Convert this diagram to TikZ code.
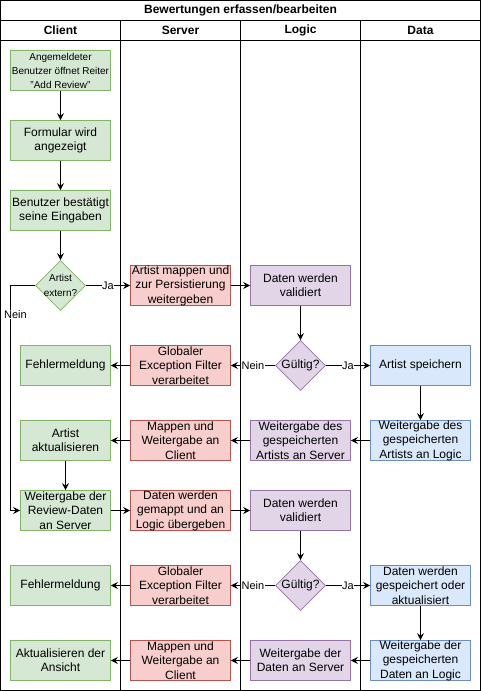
\documentclass[tikz,border=0pt]{standalone}
\usepackage{fontspec}
\setmainfont{Liberation Sans}
\usetikzlibrary{positioning, shapes.geometric, arrows.meta}
\definecolor{clientF}{HTML}{D5E8D4}
\definecolor{clientD}{HTML}{82B366}
\definecolor{serverF}{HTML}{F8CECC}
\definecolor{serverD}{HTML}{B85450}
\definecolor{logicF}{HTML}{E1D5E7}
\definecolor{logicD}{HTML}{9673A6}
\definecolor{dataF}{HTML}{DAE8FC}
\definecolor{dataD}{HTML}{6C8EBF}
\tikzset{
  card/.style    ={draw, line width=0.8pt, align=center, inner xsep=1pt,
                   inner ysep=0pt, minimum width=100pt, minimum height=40pt,
                   font=\fontsize{12}{14.4}\selectfont},
  Lclient/.style ={card, fill=clientF, draw=clientD},
  Lserver/.style ={card, fill=serverF, draw=serverD},
  Llogic/.style  ={card, fill=logicF, draw=logicD},
  Ldata/.style   ={card, fill=dataF, draw=dataD},
  Ldec/.style    ={diamond, aspect=1, minimum width=50pt, minimum height=50pt,
                   inner sep=0pt, line width=0.8pt},
  lane/.style    ={line width=0.8pt},
  head/.style    ={font=\bfseries\fontsize{12}{14}\selectfont},
  flow/.style    ={-{Stealth[length=7pt, width=7pt, inset=2.5pt]},
                   line width=0.8pt},
  lab/.style     ={fill=white, inner sep=0.5pt,
                   font=\fontsize{11}{12}\selectfont},
}
\begin{document}
\begin{tikzpicture}[x=1pt, y=-1pt]
\useasboundingbox (-0.5,-0.5) rectangle (480.5,690.5);

% swimlanes
\draw[lane] (0,0) rectangle (480,690);
\draw[lane] (0,20) -- (480,20);
\draw[lane] (0,40) -- (480,40);
\foreach \xl in {120, 240, 360}
  \draw[lane] (\xl,20) -- (\xl,690);
\node[head] (title) at (240,10) {Bewertungen erfassen/bearbeiten};
\foreach \lanename/\xc in {Client/60, Server/180, Logic/300, Data/420}
  \node[head] (H\lanename) at (\xc,30) {\lanename};

% Client
\node[Lclient, font=\fontsize{10}{14}\selectfont] (CStart) at (60,70)
  {Angemeldeter\\Benutzer öffnet Reiter\\"Add Review"};
\node[Lclient] (CForm) at (60,140) {Formular wird\\angezeigt};
\node[Lclient] (CConfirm) at (60,210) {Benutzer bestätigt\\seine Eingaben};
\node[Ldec, fill=clientF, draw=clientD,
      label={[align=center, font=\fontsize{10}{15}\selectfont]center:Artist\\extern?}]
  (CExt) at (60,285) {};
\node[Lclient, minimum width=90pt] (CErrA) at (65,365) {Fehlermeldung};
\node[Lclient, minimum width=90pt] (CUpdArtist) at (65,440) {Artist\\aktualisieren};
\node[Lclient, minimum width=90pt] (CReview) at (65,510)
  {Weitergabe der\\Review-Daten\\an Server};
\node[Lclient] (CErrB) at (60,585) {Fehlermeldung};
\node[Lclient] (CView) at (60,660) {Aktualisieren der\\Ansicht};
\coordinate (nTop) at (10,285);
\coordinate (nLow) at (10,510);

% Server
\node[Lserver] (SMapArtist) at (180,285)
  {Artist mappen und\\zur Persistierung\\weitergeben};
\node[Lserver] (SExcA) at (180,365) {Globaler\\Exception Filter\\verarbeitet};
\node[Lserver] (SBackA) at (180,440) {Mappen und\\Weitergabe an\\Client};
\node[Lserver] (SMapData) at (180,510)
  {Daten werden\\gemappt und an\\Logic übergeben};
\node[Lserver] (SExcB) at (180,585) {Globaler\\Exception Filter\\verarbeitet};
\node[Lserver] (SBackB) at (180,660) {Mappen und\\Weitergabe an\\Client};

% Logic
\node[Llogic] (LValA) at (300,285) {Daten werden\\validiert};
\node[Ldec, fill=logicF, draw=logicD,
      label={[font=\fontsize{12}{14}\selectfont]center:Gültig?}]
  (LOkA) at (300,365) {};
\node[Llogic] (LBackA) at (300,440)
  {Weitergabe des\\gespeicherten\\Artists an Server};
\node[Llogic] (LValB) at (300,510) {Daten werden\\validiert};
\node[Ldec, fill=logicF, draw=logicD,
      label={[font=\fontsize{12}{14}\selectfont]center:Gültig?}]
  (LOkB) at (300,585) {};
\node[Llogic] (LBackB) at (300,660) {Weitergabe der\\Daten an Server};

% Data
\node[Ldata] (DSave) at (420,365) {Artist speichern};
\node[Ldata] (DBackA) at (420,440)
  {Weitergabe des\\gespeicherten\\Artists an Logic};
\node[Ldata] (DStore) at (420,585)
  {Daten werden\\gespeichert oder\\aktualisiert};
\node[Ldata] (DBackB) at (420,660)
  {Weitergabe der\\gespeicherten\\Daten an Logic};

% first pass: artist
\draw[flow] (CStart) -- (CForm);
\draw[flow] (CForm) -- (CConfirm);
\draw[flow] (CConfirm) -- (CExt);
\draw[flow] (CExt) -- node[lab]{Ja} (SMapArtist);
\draw[flow] (CExt.west) -- (nTop) -- node[lab, pos=0.13, xshift=5pt]{Nein} (nLow)
  -- (CReview.west);
\draw[flow] (SMapArtist) -- (LValA);
\draw[flow] (LValA) -- (LOkA);
\draw[flow] (LOkA) -- node[lab]{Ja} (DSave);
\draw[flow] (LOkA) -- node[lab]{Nein} (SExcA);
\draw[flow] (SExcA) -- (CErrA);
\draw[flow] (DSave) -- (DBackA);
\draw[flow] (DBackA) -- (LBackA);
\draw[flow] (LBackA) -- (SBackA);
\draw[flow] (SBackA) -- (CUpdArtist);
\draw[flow] (CUpdArtist) -- (CReview);

% second pass: review
\draw[flow] (CReview) -- (SMapData);
\draw[flow] (SMapData) -- (LValB);
\draw[flow] (LValB) -- (LOkB);
\draw[flow] (LOkB) -- node[lab]{Ja} (DStore);
\draw[flow] (LOkB) -- node[lab]{Nein} (SExcB);
\draw[flow] (SExcB) -- (CErrB);
\draw[flow] (DStore) -- (DBackB);
\draw[flow] (DBackB) -- (LBackB);
\draw[flow] (LBackB) -- (SBackB);
\draw[flow] (SBackB) -- (CView);

\end{tikzpicture}
\end{document}
